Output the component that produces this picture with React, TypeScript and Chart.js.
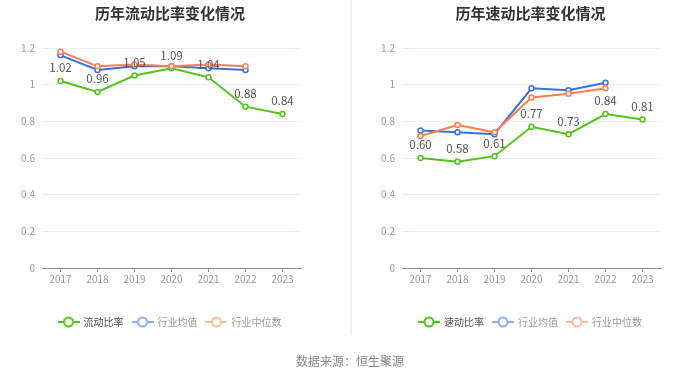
import { useEffect, useRef } from 'react';
import { Chart, registerables } from 'chart.js';

Chart.register(...registerables);

const FONT = "'Noto Sans CJK SC', 'Noto Sans', sans-serif";

const years = ['2017', '2018', '2019', '2020', '2021', '2022', '2023'];

const currentRatio = [1.02, 0.96, 1.05, 1.09, 1.04, 0.88, 0.84];
const currentAvg = [1.16, 1.08, 1.1, 1.1, 1.09, 1.08, null];
const currentMedian = [1.18, 1.1, 1.11, 1.1, 1.11, 1.1, null];

const quickRatio = [0.6, 0.58, 0.61, 0.77, 0.73, 0.84, 0.81];
const quickAvg = [0.75, 0.74, 0.73, 0.98, 0.97, 1.01, null];
const quickMedian = [0.72, 0.78, 0.74, 0.93, 0.95, 0.98, null];

const yMin = 0;
const yMax = 1.2;
const yStep = 0.2;

const GREEN = '#52c41a';
const BLUE = '#3b6fe6';
const ORANGE = '#ff7f50';
const BLUE_LIGHT = '#8eabf4';
const ORANGE_LIGHT = '#ffb89e';

function makeMarker(color: string): HTMLCanvasElement {
  const c = document.createElement('canvas');
  c.width = 22;
  c.height = 12;
  const ctx = c.getContext('2d')!;
  ctx.strokeStyle = color;
  ctx.lineWidth = 2;
  ctx.beginPath();
  ctx.moveTo(0, 6);
  ctx.lineTo(22, 6);
  ctx.stroke();
  ctx.beginPath();
  ctx.arc(11, 6, 4.5, 0, Math.PI * 2);
  ctx.fillStyle = '#fff';
  ctx.fill();
  ctx.stroke();
  return c;
}

const valueLabelPlugin = {
  id: 'valueLabels',
  afterDatasetsDraw(chart: any) {
    const meta = chart.getDatasetMeta(0);
    const data = chart.data.datasets[0].data as number[];
    const ctx = chart.ctx;
    ctx.save();
    ctx.font = `11.5px ${FONT}`;
    ctx.fillStyle = '#555';
    ctx.textAlign = 'center';
    ctx.textBaseline = 'middle';
    meta.data.forEach((pt: any, i: number) => {
      const v = data[i];
      if (v == null) return;
      ctx.fillText(v.toFixed(2), pt.x, pt.y - 13);
    });
    ctx.restore();
  },
};

function buildChart(
  canvas: HTMLCanvasElement,
  title: string,
  names: string[],
  series: (number | null)[][],
  padLeft: number,
  padRight: number,
  yWidth: number
) {
  const colors = [GREEN, BLUE, ORANGE];
  const legendColors = [GREEN, BLUE_LIGHT, ORANGE_LIGHT];
  const textColors = ['#555', '#999', '#999'];
  const markers = legendColors.map(makeMarker);
  return new Chart(canvas, {
    type: 'line',
    data: {
      labels: years,
      datasets: series.map((d, i) => ({
        label: names[i],
        data: d,
        borderColor: colors[i],
        backgroundColor: '#fff',
        borderWidth: 2,
        pointRadius: 2.5,
        pointBorderWidth: 1.5,
        pointBackgroundColor: '#fff',
        pointBorderColor: colors[i],
        tension: 0,
        spanGaps: false,
        order: 3 - i,
      })),
    },
    plugins: [valueLabelPlugin],
    options: {
      responsive: false,
      animation: false,
      events: [],
      layout: { padding: { left: padLeft, right: padRight, top: 0, bottom: 41 } },
      plugins: {
        title: {
          display: true,
          text: title,
          color: '#333',
          font: { family: FONT, size: 15, weight: 'bold' },
          padding: { top: 4, bottom: 26 },
        },
        legend: {
          display: true,
          position: 'bottom',
          labels: {
            usePointStyle: true,
            pointStyleWidth: 20,
            padding: 9,
            font: { family: FONT, size: 10 },
            generateLabels: () =>
              names.map((n, i) => ({
                text: n,
                pointStyle: markers[i] as any,
                fillStyle: legendColors[i],
                strokeStyle: legendColors[i],
                fontColor: textColors[i],
                lineWidth: 0,
                hidden: false,
                datasetIndex: i,
              })),
          },
        },
        tooltip: { enabled: false },
      },
      scales: {
        x: {
          type: 'category',
          offset: true,
          grid: {
            display: true,
            drawOnChartArea: false,
            drawTicks: true,
            tickLength: 4,
            color: '#8f8f8f',
          },
          border: { display: true, color: '#8f8f8f' },
          ticks: {
            color: '#999',
            font: { family: FONT, size: 10 },
            padding: 1,
            maxRotation: 0,
            autoSkip: false,
          },
          afterFit: (s: any) => {
            s.height = 40;
          },
        },
        y: {
          type: 'linear',
          position: 'left',
          min: yMin,
          max: yMax,
          ticks: {
            stepSize: yStep,
            color: '#999',
            font: { family: FONT, size: 10 },
            padding: 7,
            callback: (v: any) => String(Number(Number(v).toFixed(1))),
          },
          grid: { color: '#e9edf5', drawTicks: false, lineWidth: 1 },
          border: { display: false },
          afterFit: (s: any) => {
            s.width = yWidth;
          },
        },
        yRight: {
          type: 'linear',
          position: 'right',
          display: true,
          grid: { display: false },
          border: { display: false },
          ticks: { display: false },
          afterFit: (s: any) => {
            s.width = 39;
          },
        },
      },
    } as any,
  });
}

export default function App() {
  const leftRef = useRef<HTMLCanvasElement>(null);
  const rightRef = useRef<HTMLCanvasElement>(null);

  useEffect(() => {
    document.body.style.margin = '0';
    const c1 = buildChart(
      leftRef.current!,
      '历年流动比率变化情况',
      ['流动比率', '行业均值', '行业中位数'],
      [currentRatio, currentAvg, currentMedian],
      0,
      10,
      42
    );
    const c2 = buildChart(
      rightRef.current!,
      '历年速动比率变化情况',
      ['速动比率', '行业均值', '行业中位数'],
      [quickRatio, quickAvg, quickMedian],
      11,
      0,
      41
    );
    return () => {
      c1.destroy();
      c2.destroy();
    };
  }, []);

  return (
    <div
      style={{
        position: 'fixed',
        left: 0,
        top: 0,
        width: 700,
        height: 378,
        background: '#fff',
        overflow: 'hidden',
      }}
    >
      <canvas
        ref={leftRef}
        width={350}
        height={378}
        style={{ position: 'absolute', left: 0, top: 0, width: 350, height: 378 }}
      />
      <canvas
        ref={rightRef}
        width={350}
        height={378}
        style={{ position: 'absolute', left: 350, top: 0, width: 350, height: 378 }}
      />
      <div
        style={{
          position: 'absolute',
          left: 350,
          top: 0,
          width: 2,
          height: 335,
          background: '#f3f3f3',
        }}
      />
      <div
        style={{
          position: 'absolute',
          left: 0,
          width: 700,
          top: 353,
          textAlign: 'center',
          fontFamily: FONT,
          fontSize: 12,
          lineHeight: '16px',
          color: '#888',
        }}
      >
        数据来源：恒生聚源
      </div>
    </div>
  );
}
